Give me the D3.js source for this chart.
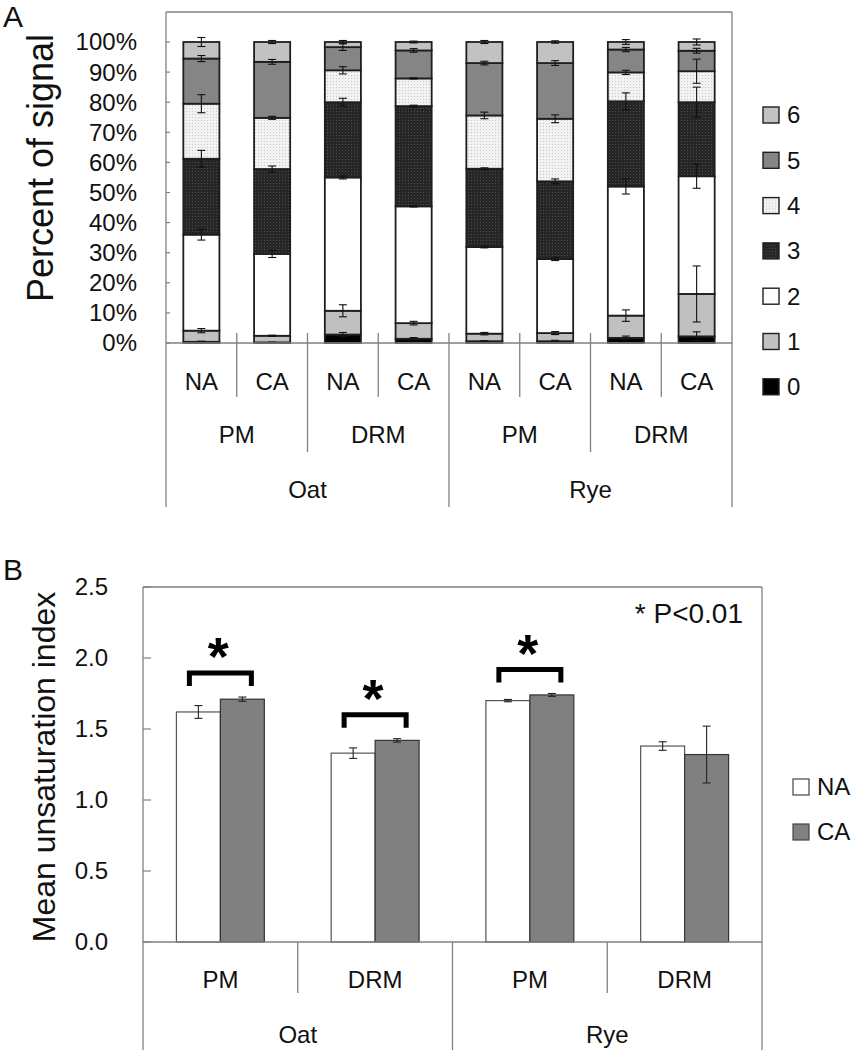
<!DOCTYPE html>
<html>
<head>
<meta charset="utf-8">
<script src="https://cdn.jsdelivr.net/npm/d3@7"></script>
<style>
  body { margin: 0; background: #fff; }
  svg { font-family: "Liberation Sans", Arial, sans-serif; }
</style>
</head>
<body>
<svg id="chart" width="853" height="1050"></svg>
<script>
// ---- panel A data: percent of signal per number of double bonds ----
var barsA = ["Oat PM NA", "Oat PM CA", "Oat DRM NA", "Oat DRM CA", "Rye PM NA", "Rye PM CA", "Rye DRM NA", "Rye DRM CA"];
var tierA1 = ["NA", "CA", "NA", "CA", "NA", "CA", "NA", "CA"];
var tierA2 = ["PM", "DRM", "PM", "DRM"];
var tierA3 = ["Oat", "Rye"];
var levels = ["0", "1", "2", "3", "4", "5", "6"];

var lvl0 = [0.4, 0.2, 2.8, 1.4, 0.6, 0.6, 1.7, 2.2];
var lvl1 = [3.7, 2.2, 7.9, 5.2, 2.5, 2.7, 7.4, 14.1];
var lvl2 = [31.9, 27.2, 44.3, 38.8, 28.8, 24.6, 42.9, 39.1];
var lvl3 = [25.2, 28.2, 25.0, 33.3, 26.0, 25.8, 28.3, 24.6];
var lvl4 = [18.3, 17.0, 10.6, 9.2, 17.7, 20.8, 9.6, 10.3];
var lvl5 = [15.0, 18.6, 7.7, 9.3, 17.4, 18.5, 7.6, 6.8];
var lvl6 = [5.5, 6.6, 1.7, 2.8, 7.0, 7.0, 2.5, 2.9];

var err0 = [0.2, 0.1, 0.7, 0.4, 0.2, 0.3, 0.6, 1.5];
var err1 = [0.7, 0.2, 2.0, 0.6, 0.4, 0.5, 1.9, 9.3];
var err2 = [1.8, 1.2, 0.5, 0.2, 0.3, 0.5, 2.5, 4.0];
var err3 = [2.8, 1.0, 1.3, 0.3, 0.3, 0.8, 2.8, 5.0];
var err4 = [3.0, 0.5, 1.2, 0.2, 1.1, 1.3, 0.7, 4.0];
var err5 = [1.0, 0.8, 1.1, 0.6, 0.6, 0.8, 0.7, 0.8];
var err6 = [1.5, 0.5, 0.5, 0.3, 0.5, 0.4, 0.8, 1.0];
var ticksA = [0, 10, 20, 30, 40, 50, 60, 70, 80, 90, 100];

// ---- panel B data: mean unsaturation index ----
var groupsB = ["Oat PM", "Oat DRM", "Rye PM", "Rye DRM"];
var seriesB = ["NA", "CA"];
var tierB1 = ["PM", "DRM", "PM", "DRM"];
var tierB2 = ["Oat", "Rye"];
var meanNA = [1.62, 1.33, 1.70, 1.38];
var errNA = [0.045, 0.037, 0.008, 0.03];
var meanCA = [1.71, 1.42, 1.74, 1.32];
var errCA = [0.015, 0.012, 0.01, 0.2];
var sigGroups = ["Oat PM", "Oat DRM", "Rye PM"];
var ticksB = [0, 0.5, 1.0, 1.5, 2.0, 2.5];

var svg = d3.select("#chart");
var axisCol = "#808080";

// patterns for the dotted fills
var defs = svg.append("defs");
var p4 = defs.append("pattern").attr("id", "pat4").attr("width", 3).attr("height", 3).attr("patternUnits", "userSpaceOnUse");
p4.append("rect").attr("width", 3).attr("height", 3).attr("fill", "#f2f2f2");
p4.append("rect").attr("width", 1).attr("height", 1).attr("fill", "#c8c8c8");
var p3 = defs.append("pattern").attr("id", "pat3").attr("width", 3).attr("height", 3).attr("patternUnits", "userSpaceOnUse");
p3.append("rect").attr("width", 3).attr("height", 3).attr("fill", "#262626");
p3.append("rect").attr("width", 1).attr("height", 1).attr("fill", "#4a4a4a");

var fills = { "0": "#000", "1": "#c0c0c0", "2": "#fff", "3": "url(#pat3)", "4": "url(#pat4)", "5": "#858585", "6": "#c2c2c2" };

// ================= PANEL A =================
var A = { left: 166, right: 732, top: 12, y0: 343, y100: 42, bottom: 507 };
var xA = d3.scaleBand().domain(barsA).range([A.left, A.right]).paddingInner(0.49).paddingOuter(0.245);
var yA = d3.scaleLinear().domain([0, 100]).range([A.y0, A.y100]);

var rowsA = barsA.map(function(b, i) {
  return { bar: b, "0": lvl0[i], "1": lvl1[i], "2": lvl2[i], "3": lvl3[i], "4": lvl4[i], "5": lvl5[i], "6": lvl6[i] };
});
var errsA = [err0, err1, err2, err3, err4, err5, err6];
var stackA = d3.stack().keys(levels)(rowsA);

var gA = svg.append("g");

// frame
gA.append("line").attr("x1", A.left).attr("x2", A.right).attr("y1", A.top).attr("y2", A.top).attr("stroke", axisCol).attr("stroke-width", 1.3);
gA.append("line").attr("x1", A.right).attr("x2", A.right).attr("y1", A.top).attr("y2", A.bottom).attr("stroke", axisCol).attr("stroke-width", 1.3);
gA.append("line").attr("x1", A.left).attr("x2", A.left).attr("y1", A.top).attr("y2", A.bottom).attr("stroke", axisCol).attr("stroke-width", 1.3);

// y ticks and labels
gA.selectAll(".tkA").data(ticksA).enter().append("line")
  .attr("x1", A.left).attr("x2", A.left + 4)
  .attr("y1", function(d) { return yA(d); }).attr("y2", function(d) { return yA(d); })
  .attr("stroke", axisCol).attr("stroke-width", 1.2);
gA.selectAll(".tlA").data(ticksA).enter().append("text")
  .attr("x", 137).attr("y", function(d) { return yA(d); })
  .attr("dy", "0.35em").attr("text-anchor", "end")
  .attr("font-size", 24).attr("fill", "#111")
  .text(function(d) { return d + "%"; });

// stacked bars
stackA.forEach(function(layer, li) {
  gA.selectAll(".seg" + li).data(layer).enter().append("rect")
    .attr("x", function(d, i) { return xA(barsA[i]); })
    .attr("width", xA.bandwidth())
    .attr("y", function(d) { return yA(d[1]); })
    .attr("height", function(d) { return yA(d[0]) - yA(d[1]); })
    .attr("fill", fills[layer.key])
    .attr("stroke", "#1e1e1e").attr("stroke-width", 1.8);
});

// error bars at top of each segment
stackA.forEach(function(layer, li) {
  layer.forEach(function(d, i) {
    var e = errsA[li][i];
    var cx = xA(barsA[i]) + xA.bandwidth() / 2;
    var y1 = yA(d[1] + e), y2 = yA(d[1] - e);
    var g = gA.append("g").attr("stroke", "#111").attr("stroke-width", 1.1);
    g.append("line").attr("x1", cx).attr("x2", cx).attr("y1", y1).attr("y2", y2);
    g.append("line").attr("x1", cx - 4).attr("x2", cx + 4).attr("y1", y1).attr("y2", y1);
    g.append("line").attr("x1", cx - 4).attr("x2", cx + 4).attr("y1", y2).attr("y2", y2);
  });
});

// x baseline
gA.append("line").attr("x1", A.left).attr("x2", A.right).attr("y1", A.y0).attr("y2", A.y0).attr("stroke", axisCol).attr("stroke-width", 1.3);

// multi-level category axis
var stepA = xA.step();
var tierLinesA = [397, 452, 507];
d3.range(1, 8).forEach(function(k) {
  var x = A.left + k * stepA;
  var tier = (k % 4 === 0) ? 2 : (k % 2 === 0 ? 1 : 0);
  gA.append("line").attr("x1", x).attr("x2", x).attr("y1", A.y0 - 10).attr("y2", tierLinesA[tier])
    .attr("stroke", axisCol).attr("stroke-width", 1.3);
});
gA.selectAll(".t1A").data(tierA1).enter().append("text")
  .attr("x", function(d, i) { return xA(barsA[i]) + xA.bandwidth() / 2; })
  .attr("y", 382).attr("dy", "0.35em").attr("text-anchor", "middle").attr("font-size", 24).attr("fill", "#111")
  .text(function(d) { return d; });
gA.selectAll(".t2A").data(tierA2).enter().append("text")
  .attr("x", function(d, i) { return A.left + (i * 2 + 1) * stepA; })
  .attr("y", 435).attr("dy", "0.35em").attr("text-anchor", "middle").attr("font-size", 24).attr("fill", "#111")
  .text(function(d) { return d; });
gA.selectAll(".t3A").data(tierA3).enter().append("text")
  .attr("x", function(d, i) { return A.left + (i * 4 + 2) * stepA; })
  .attr("y", 490).attr("dy", "0.35em").attr("text-anchor", "middle").attr("font-size", 24).attr("fill", "#111")
  .text(function(d) { return d; });

// axis title and panel letter
gA.append("text").attr("transform", "translate(40,168) rotate(-90)")
  .attr("text-anchor", "middle").attr("dy", "0.35em").attr("font-size", 36).attr("fill", "#111")
  .text("Percent of signal");
gA.append("text").attr("x", 3).attr("y", 27).attr("font-size", 30).attr("fill", "#111").text("A");

// legend A
var legA = gA.selectAll(".legA").data(levels.slice().reverse()).enter().append("g")
  .attr("transform", function(d, i) { return "translate(763," + (115 + i * 45.3) + ")"; });
legA.append("rect").attr("x", 0).attr("y", -8).attr("width", 16).attr("height", 16)
  .attr("fill", function(d) { return fills[d]; }).attr("stroke", "#1e1e1e").attr("stroke-width", 1.4);
legA.append("text").attr("x", 24).attr("y", 0).attr("dy", "0.35em").attr("font-size", 24).attr("fill", "#111")
  .text(function(d) { return d; });

// ================= PANEL B =================
var B = { left: 143, right: 762, top: 587, y0: 942, bottom: 1050 };
var xB = d3.scaleBand().domain(groupsB).range([B.left, B.right]);
var xBi = d3.scaleBand().domain(seriesB).range([0, xB.bandwidth()]).paddingOuter(0.76);
var yB = d3.scaleLinear().domain([0, 2.5]).range([B.y0, B.top]);

var gB = svg.append("g");
gB.append("line").attr("x1", B.left).attr("x2", B.right).attr("y1", B.top).attr("y2", B.top).attr("stroke", axisCol).attr("stroke-width", 1.3);
gB.append("line").attr("x1", B.right).attr("x2", B.right).attr("y1", B.top).attr("y2", B.bottom).attr("stroke", axisCol).attr("stroke-width", 1.3);
gB.append("line").attr("x1", B.left).attr("x2", B.left).attr("y1", B.top).attr("y2", B.bottom).attr("stroke", axisCol).attr("stroke-width", 1.3);

gB.selectAll(".tkB").data(ticksB).enter().append("line")
  .attr("x1", B.left).attr("x2", B.left + 8)
  .attr("y1", function(d) { return yB(d); }).attr("y2", function(d) { return yB(d); })
  .attr("stroke", axisCol).attr("stroke-width", 1.2);
gB.selectAll(".tlB").data(ticksB).enter().append("text")
  .attr("x", 108).attr("y", function(d) { return yB(d); })
  .attr("dy", "0.35em").attr("text-anchor", "end").attr("font-size", 24).attr("fill", "#111")
  .text(function(d) { return d.toFixed(1); });

var rowsB = [];
groupsB.forEach(function(g, i) {
  rowsB.push({ group: g, series: "NA", v: meanNA[i], e: errNA[i] });
  rowsB.push({ group: g, series: "CA", v: meanCA[i], e: errCA[i] });
});

gB.selectAll(".barB").data(rowsB).enter().append("rect")
  .attr("x", function(d) { return xB(d.group) + xBi(d.series); })
  .attr("width", xBi.bandwidth())
  .attr("y", function(d) { return yB(d.v); })
  .attr("height", function(d) { return B.y0 - yB(d.v); })
  .attr("fill", function(d) { return d.series === "NA" ? "#fff" : "#808080"; })
  .attr("stroke", function(d) { return d.series === "NA" ? "#555" : "#333"; })
  .attr("stroke-width", 1.2);

rowsB.forEach(function(d) {
  var cx = xB(d.group) + xBi(d.series) + xBi.bandwidth() / 2;
  var y1 = yB(d.v + d.e), y2 = yB(d.v - d.e);
  var g = gB.append("g").attr("stroke", "#222").attr("stroke-width", 1.1);
  g.append("line").attr("x1", cx).attr("x2", cx).attr("y1", y1).attr("y2", y2);
  g.append("line").attr("x1", cx - 4).attr("x2", cx + 4).attr("y1", y1).attr("y2", y1);
  g.append("line").attr("x1", cx - 4).attr("x2", cx + 4).attr("y1", y2).attr("y2", y2);
});

gB.append("line").attr("x1", B.left).attr("x2", B.right).attr("y1", B.y0).attr("y2", B.y0).attr("stroke", axisCol).attr("stroke-width", 1.3);

// significance brackets
sigGroups.forEach(function(gname) {
  var i = groupsB.indexOf(gname);
  var top = yB(Math.max(meanNA[i] + errNA[i], meanCA[i] + errCA[i])) - 24;
  var cx = xB(gname) + xB.bandwidth() / 2;
  gB.append("path")
    .attr("d", "M" + (cx - 31) + "," + (top + 13) + "V" + top + "H" + (cx + 31) + "V" + (top + 13))
    .attr("fill", "none").attr("stroke", "#000").attr("stroke-width", 5).attr("stroke-linejoin", "miter");
  gB.append("text").attr("x", cx - 2).attr("y", top + 2).attr("text-anchor", "middle")
    .attr("font-size", 54).attr("font-weight", "bold").attr("fill", "#000").text("*");
});

gB.append("text").attr("x", 743).attr("y", 613).attr("dy", "0.35em").attr("text-anchor", "end")
  .attr("font-size", 28).attr("fill", "#111").text("* P<0.01");

// category axis B
var stepB = xB.step();
d3.range(1, 4).forEach(function(k) {
  var x = B.left + k * stepB;
  gB.append("line").attr("x1", x).attr("x2", x).attr("y1", B.y0).attr("y2", k === 2 ? B.bottom : 993)
    .attr("stroke", axisCol).attr("stroke-width", 1.3);
});
gB.selectAll(".t1B").data(tierB1).enter().append("text")
  .attr("x", function(d, i) { return xB(groupsB[i]) + stepB / 2; })
  .attr("y", 980).attr("dy", "0.35em").attr("text-anchor", "middle").attr("font-size", 24).attr("fill", "#111")
  .text(function(d) { return d; });
gB.selectAll(".t2B").data(tierB2).enter().append("text")
  .attr("x", function(d, i) { return B.left + (i * 2 + 1) * stepB; })
  .attr("y", 1035).attr("dy", "0.35em").attr("text-anchor", "middle").attr("font-size", 24).attr("fill", "#111")
  .text(function(d) { return d; });

gB.append("text").attr("transform", "translate(44,767) rotate(-90)")
  .attr("text-anchor", "middle").attr("dy", "0.35em").attr("font-size", 32).attr("fill", "#111")
  .text("Mean unsaturation index");
gB.append("text").attr("x", 3).attr("y", 580).attr("font-size", 30).attr("fill", "#111").text("B");

// legend B
var legB = gB.selectAll(".legB").data(seriesB).enter().append("g")
  .attr("transform", function(d, i) { return "translate(793," + (787 + i * 45) + ")"; });
legB.append("rect").attr("x", 0).attr("y", -8).attr("width", 16).attr("height", 16)
  .attr("fill", function(d) { return d === "NA" ? "#fff" : "#808080"; })
  .attr("stroke", "#444").attr("stroke-width", 1.2);
legB.append("text").attr("x", 24).attr("y", 0).attr("dy", "0.35em").attr("font-size", 24).attr("fill", "#111")
  .text(function(d) { return d; });
</script>
</body>
</html>
